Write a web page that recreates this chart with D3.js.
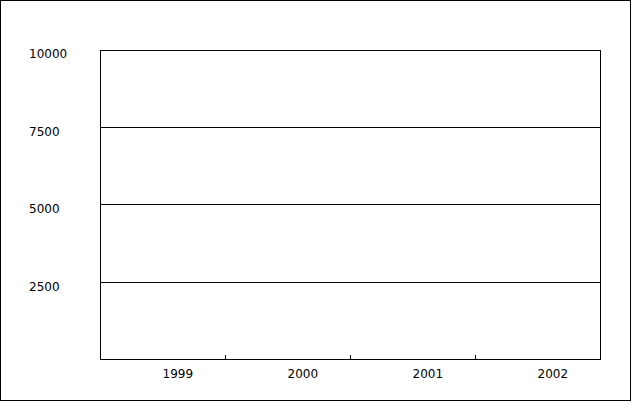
<!DOCTYPE html>
<html>
<head>
<meta charset="utf-8">
<script src="https://cdn.jsdelivr.net/npm/d3@7"></script>
<style>
  html, body { margin: 0; padding: 0; background: #fff; }
  svg { display: block; }
  text { font-family: "DejaVu Sans", sans-serif; font-size: 12px; fill: #000; }
</style>
</head>
<body>
<script>
const categories = ["1999", "2000", "2001", "2002"];
const yTicks = [2500, 5000, 7500, 10000];
const yDomain = [0, 10000];
const seriesValues = [];   // the reference shows no plotted marks

const W = 635, H = 405;
const plot = { left: 100, top: 50, right: 600, bottom: 360 };

const svg = d3.select("body").append("svg").attr("width", W).attr("height", H);

// outer frame
svg.append("rect")
  .attr("x", 0.5).attr("y", 0.5).attr("width", 630).attr("height", 400)
  .attr("fill", "#fff").attr("stroke", "#000").attr("stroke-width", 1)
  .attr("shape-rendering", "crispEdges");

const x = d3.scaleBand().domain(categories).range([plot.left, plot.right]).padding(0);
const y = d3.scaleLinear().domain(yDomain).range([plot.bottom, plot.top]);

// gridlines
svg.append("g").selectAll("line").data(yTicks.filter(t => t < yDomain[1])).join("line")
  .attr("x1", plot.left).attr("x2", plot.right)
  .attr("y1", d => Math.round(y(d)) - 0.5).attr("y2", d => Math.round(y(d)) - 0.5)
  .attr("stroke", "#000").attr("shape-rendering", "crispEdges");

// plot box
svg.append("rect")
  .attr("x", plot.left + 0.5).attr("y", plot.top + 0.5)
  .attr("width", plot.right - plot.left).attr("height", plot.bottom - plot.top - 1)
  .attr("fill", "none").attr("stroke", "#000").attr("shape-rendering", "crispEdges");

// category boundary ticks (inward from bottom axis)
const boundaries = categories.slice(1).map(c => x(c));
svg.append("g").selectAll("line").data(boundaries).join("line")
  .attr("x1", d => Math.round(d) + 0.5).attr("x2", d => Math.round(d) + 0.5)
  .attr("y1", plot.bottom - 5).attr("y2", plot.bottom)
  .attr("stroke", "#000").attr("shape-rendering", "crispEdges");

// x labels (start at band centre)
svg.append("g").selectAll("text").data(categories).join("text")
  .attr("x", d => x(d) + x.bandwidth() / 2)
  .attr("y", 378)
  .attr("text-anchor", "start")
  .text(d => d);

// y labels (left aligned)
svg.append("g").selectAll("text").data(yTicks).join("text")
  .attr("x", 29)
  .attr("y", d => Math.round(y(d)) + 8)
  .attr("text-anchor", "start")
  .text(d => d);
</script>
</body>
</html>
